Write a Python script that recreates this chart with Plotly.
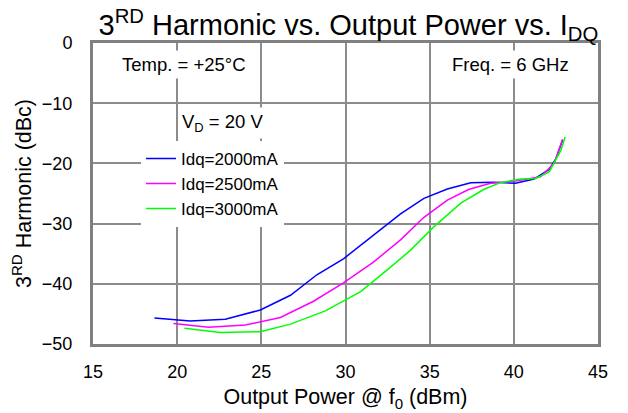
import plotly.graph_objects as go

# Output power (dBm) / 3rd harmonic (dBc) per quiescent current
pout_2000 = [18.65, 20.77, 22.86, 24.94, 26.73, 28.3, 29.9, 31.3, 33.27, 34.66,
             36.05, 37.44, 38.8, 40.1, 41.2, 42.1, 42.5, 42.9]
h3_2000 = [-45.7, -46.2, -45.9, -44.35, -41.9, -38.5, -35.8, -32.7, -28.4, -25.8,
           -24.25, -23.2, -23.15, -23.3, -22.6, -21.0, -19.2, -16.1]

pout_2500 = [19.78, 21.86, 24.05, 26.13, 28.1, 29.9, 31.7, 33.27, 34.66, 36.05,
             37.34, 38.63, 40.2, 41.6, 42.4, 42.9]
h3_2500 = [-46.6, -47.2, -46.85, -45.6, -42.9, -39.8, -36.3, -32.7, -28.95, -26.1,
           -24.3, -23.3, -22.9, -22.2, -20.0, -16.0]

pout_3000 = [20.43, 22.56, 24.94, 26.73, 28.8, 30.9, 32.48, 33.87, 35.26, 36.85,
             38.23, 39.2, 40.4, 41.3, 42.1, 42.8, 43.05]
h3_3000 = [-47.4, -48.1, -47.95, -46.7, -44.5, -41.3, -37.7, -34.4, -30.5, -26.6,
           -24.3, -23.2, -22.6, -22.5, -21.4, -17.8, -15.6]

series = [
    ("Idq=2000mA", pout_2000, h3_2000, "#0000ff"),
    ("Idq=2500mA", pout_2500, h3_2500, "#ff00ff"),
    ("Idq=3000mA", pout_3000, h3_3000, "#00ff00"),
]

FONT = "Liberation Sans, Arial, sans-serif"
GRID = "#8c8c8c"

fig = go.Figure()
for name, x, y, color in series:
    fig.add_trace(go.Scatter(x=x, y=y, mode="lines", name=name,
                             line=dict(color=color, width=1.5)))

# page body adds an 8px offset, so the figure is sized to fit inside the window
fig.update_layout(
    width=620, height=405,
    margin=dict(l=85, r=30, t=35, b=69),
    paper_bgcolor="white", plot_bgcolor="white",
    font=dict(family=FONT, color="black", size=18),
    title=dict(text="3<sup>RD</sup> Harmonic vs. Output Power vs. I<sub>DQ</sub>",
               x=0.549, xanchor="center", y=0.958, yanchor="middle",
               font=dict(size=29)),
    showlegend=True,
    legend=dict(x=0.095, y=0.675, xanchor="left", yanchor="top",
                bgcolor="white", borderwidth=0, font=dict(size=17),
                tracegroupgap=0),
)

fig.update_xaxes(
    range=[15, 45], dtick=5, showgrid=True, gridcolor=GRID, gridwidth=1.5,
    showline=True, linecolor="#808080", linewidth=3, mirror=True,
    zeroline=False, ticks="", ticklabelstandoff=9, automargin=False,
    title=dict(text="Output Power @ f<sub>0</sub> (dBm)", font=dict(size=21.5), standoff=9),
)
fig.update_yaxes(
    range=[-50, 0], dtick=10, showgrid=True, gridcolor=GRID, gridwidth=1.5,
    showline=True, linecolor="#808080", linewidth=3, mirror=True,
    zeroline=False, ticks="", ticklabelstandoff=14, automargin=False,
    title=dict(text="3<sup>RD</sup> Harmonic (dBc)", font=dict(size=21.5), standoff=14),
)

notes = [
    ("Temp. = +25°C", 20.4, -3.65),
    ("Freq. = 6 GHz", 39.8, -3.65),
    ("V<sub>D</sub> = 20 V", 22.7, -13.3),
]
for text, x, y in notes:
    fig.add_annotation(text=text, x=x, y=y, xref="x", yref="y", showarrow=False,
                       font=dict(size=18.5), bgcolor="white", borderpad=3)

fig.write_html("out.html")
